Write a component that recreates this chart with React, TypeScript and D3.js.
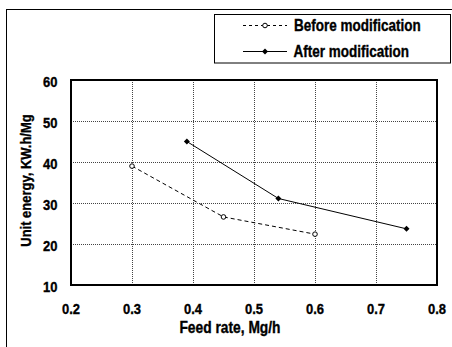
import * as d3 from 'd3';

const xTicks = [0.2, 0.3, 0.4, 0.5, 0.6, 0.7, 0.8];
const yTicks = [10, 20, 30, 40, 50, 60];

const beforeX = [0.3, 0.45, 0.6];
const beforeY = [39, 26.6, 22.4];
const afterX = [0.39, 0.54, 0.75];
const afterY = [45, 31.1, 23.7];

const seriesNames = ['Before modification', 'After modification'];

const W = 452;
const H = 347;
const margin = { top: 80, right: 14, bottom: 62, left: 71 };
const FONT = '"Liberation Sans", Arial, sans-serif';
const SY = 1.17;

function Label({ x, y, size, anchor = 'start', rotate = 0, children }: any) {
  return (
    <text
      transform={`translate(${x},${y}) rotate(${rotate}) scale(1,${SY})`}
      fontFamily={FONT}
      fontWeight="bold"
      fontSize={size}
      textAnchor={anchor}
      fill="#000"
      stroke="#000"
      strokeWidth={0.3}
    >
      {children}
    </text>
  );
}

function diamond(cx: number, cy: number, r = 3) {
  return `M${cx},${cy - r}L${cx + r},${cy}L${cx},${cy + r}L${cx - r},${cy}Z`;
}

export default function App() {
  const x = d3.scaleLinear().domain([0.2, 0.8]).range([margin.left, W - margin.right - 1]);
  const y = d3.scaleLinear().domain([10, 60]).range([H - margin.bottom, margin.top]);

  const line = d3
    .line<[number, number]>()
    .x((d) => x(d[0]))
    .y((d) => y(d[1]));

  const before = beforeX.map((v, i) => [v, beforeY[i]] as [number, number]);
  const after = afterX.map((v, i) => [v, afterY[i]] as [number, number]);

  const x0 = x(0.2);
  const x1 = x(0.8);
  const y0 = y(10);
  const y1 = y(60);

  return (
    <svg
      width={W}
      height={H}
      style={{ position: 'absolute', left: 0, top: 0, background: '#fff' }}
    >
      <rect x={6.5} y={9.5} width={W} height={H} fill="#fff" stroke="#000" strokeWidth={1} />

      {/* grid */}
      {xTicks.slice(1, -1).map((t) => (
        <line
          key={'gx' + t}
          x1={Math.round(x(t)) + 0.5}
          x2={Math.round(x(t)) + 0.5}
          y1={y1}
          y2={y0}
          stroke="#444"
          strokeWidth={1}
          strokeDasharray="1,1"
        />
      ))}
      {yTicks.slice(1, -1).map((t) => (
        <line
          key={'gy' + t}
          x1={x0}
          x2={x1}
          y1={Math.round(y(t)) + 0.5}
          y2={Math.round(y(t)) + 0.5}
          stroke="#444"
          strokeWidth={1}
          strokeDasharray="1,1"
        />
      ))}

      <rect x={x0} y={y1} width={x1 - x0} height={y0 - y1} fill="none" stroke="#000" strokeWidth={2} />

      {/* series */}
      <path d={line(before) ?? ''} fill="none" stroke="#000" strokeWidth={1} strokeDasharray="4,3" />
      <path d={line(after) ?? ''} fill="none" stroke="#000" strokeWidth={1} />
      {before.map((d, i) => (
        <circle key={'b' + i} cx={x(d[0])} cy={y(d[1])} r={2.3} fill="#fff" stroke="#000" strokeWidth={1} />
      ))}
      {after.map((d, i) => (
        <path key={'a' + i} d={diamond(x(d[0]), y(d[1]))} fill="#000" />
      ))}

      {/* tick labels */}
      {yTicks.map((t) => (
        <Label key={'ly' + t} x={57.5} y={y(t) + 6.5} size={13} anchor="end">
          {t}
        </Label>
      ))}
      {xTicks.map((t) => (
        <Label key={'lx' + t} x={x(t)} y={313.5} size={13} anchor="middle">
          {t.toFixed(1)}
        </Label>
      ))}

      <Label x={230} y={332.5} size={13.8} anchor="middle">
        Feed rate, Mg/h
      </Label>
      <Label x={30.5} y={180.5} size={13} anchor="middle" rotate={-90}>
        Unit energy, KW.h/Mg
      </Label>

      {/* legend */}
      <rect x={214.5} y={14.5} width={236} height={48.5} fill="#fff" stroke="#000" strokeWidth={1} />
      <line x1={243} x2={287} y1={25.5} y2={25.5} stroke="#000" strokeDasharray="3,3" />
      <circle cx={265} cy={25.5} r={2.3} fill="#fff" stroke="#000" />
      <Label x={294} y={30.5} size={13.5}>
        {seriesNames[0]}
      </Label>
      <line x1={243} x2={287} y1={51.5} y2={51.5} stroke="#000" />
      <path d={diamond(265, 51.5)} fill="#000" />
      <Label x={293.5} y={56.5} size={13.5}>
        {seriesNames[1]}
      </Label>
    </svg>
  );
}
